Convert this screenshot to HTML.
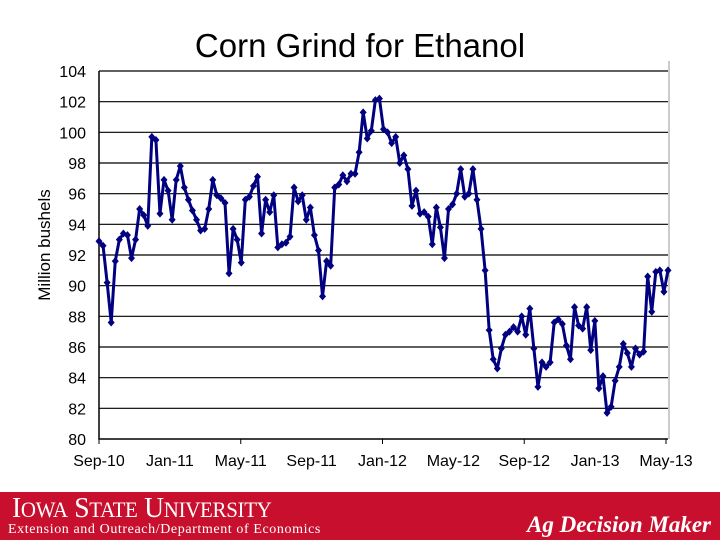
<!DOCTYPE html>
<html><head><meta charset="utf-8"><style>
body{margin:0;width:720px;height:540px;background:#fff;overflow:hidden;font-family:"Liberation Sans",Arial,sans-serif;position:relative}
#footer{position:absolute;left:0;top:492px;width:720px;height:48px;background:#c8102e}
</style></head><body>
<svg id="chart" width="720" height="492" style="position:absolute;left:0;top:0">
<text x="360" y="57" text-anchor="middle" font-size="33" font-family="Liberation Sans, sans-serif">Corn Grind for Ethanol</text>
<text transform="translate(50,245) rotate(-90)" text-anchor="middle" font-size="17">Million bushels</text>
<g id="grid"></g><g id="axes"></g><g id="series"></g>
</svg>
<div id="footer">
<div style="position:absolute;left:12px;top:0px;color:#fff;font-family:'Liberation Serif',serif;font-size:29px;letter-spacing:-0.3px;white-space:nowrap;transform:scaleX(0.95);transform-origin:left">I<span style="font-size:22px">OWA</span> S<span style="font-size:22px">TATE</span> U<span style="font-size:22px">NIVERSITY</span></div>
<div style="position:absolute;left:8px;top:30px;color:#fff;font-family:'Liberation Serif',serif;font-size:14px;white-space:nowrap;letter-spacing:0.6px">Extension and Outreach/Department of Economics</div>
<div style="position:absolute;left:527px;top:20px;color:#fff;font-family:'Liberation Serif',serif;font-style:italic;font-weight:bold;font-size:23px;white-space:nowrap">Ag Decision Maker</div>
</div>
<script>
const values=[92.9,92.6,90.2,87.6,91.6,93.0,93.4,93.3,91.8,93.0,95.0,94.6,93.9,99.7,99.5,94.7,96.9,96.2,94.3,96.9,97.8,96.4,95.6,94.9,94.3,93.6,93.7,95.0,96.9,95.9,95.7,95.4,90.8,93.7,93.0,91.5,95.6,95.8,96.5,97.1,93.4,95.6,94.8,95.9,92.5,92.7,92.8,93.2,96.4,95.5,95.9,94.3,95.1,93.3,92.3,89.3,91.6,91.3,96.4,96.6,97.2,96.8,97.3,97.3,98.7,101.3,99.6,100.1,102.1,102.2,100.2,100.0,99.3,99.7,98.0,98.5,97.6,95.2,96.2,94.7,94.8,94.5,92.7,95.1,93.8,91.8,95.0,95.3,96.0,97.6,95.8,96.0,97.6,95.6,93.7,91.0,87.1,85.2,84.6,85.9,86.8,87.0,87.3,87.0,88.0,86.8,88.5,85.9,83.4,85.0,84.7,85.0,87.6,87.8,87.5,86.1,85.2,88.6,87.4,87.2,88.6,85.8,87.7,83.3,84.1,81.7,82.1,83.8,84.7,86.2,85.6,84.7,85.9,85.5,85.7,90.6,88.3,90.9,91.0,89.6,91.0];
const yTicks=[80,82,84,86,88,90,92,94,96,98,100,102,104];
const xLabels=["Sep-10","Jan-11","May-11","Sep-11","Jan-12","May-12","Sep-12","Jan-13","May-13"];
const X0=99,X1=668,Y0=439,Y1=71;
const NS='http://www.w3.org/2000/svg';
function y(v){return Y0-(v-80)/(104-80)*(Y0-Y1);}
function x(i){return X0+i/(values.length-1)*(X1-X0);}
function xl(i){return X0+i/(xLabels.length-1)*(X1-2-X0);}
function mk(t,a,p){const e=document.createElementNS(NS,t);for(const k in a)e.setAttribute(k,a[k]);p.appendChild(e);return e;}
const grid=document.getElementById('grid'),axes=document.getElementById('axes'),series=document.getElementById('series');
yTicks.forEach(v=>{
 if(v>80){const g=mk('line',{x1:X0,x2:X1,y1:y(v),y2:y(v),stroke:'#000','stroke-width':1.2},grid);
 
 }
 const t=mk('text',{x:86,y:y(v)+6,'text-anchor':'end','font-size':16},axes);t.textContent=v;
 
 
});
const ax=mk('path',{d:`M${X0},${Y1} V${Y0} H${X1}`,stroke:'#000','stroke-width':1.5,fill:'none'},axes);


mk('line',{x1:X1+1,x2:X1+1,y1:Y1-10,y2:Y0,stroke:'#999','stroke-width':1},axes);
xLabels.forEach((l,i)=>{
 if(i%2==0)mk('line',{x1:xl(i),x2:xl(i),y1:Y0,y2:Y0+5,stroke:'#000'},axes);
 const t=mk('text',{x:xl(i),y:466,'text-anchor':'middle','font-size':16},axes);t.textContent=l;
 
 
});
const line=mk('polyline',{points:values.map((v,i)=>x(i)+','+y(v)).join(' '),fill:'none',stroke:'#000080','stroke-width':3,'stroke-linejoin':'round'},series);


values.forEach((v,i)=>{
 const cx=x(i),cy=y(v);
 const m=mk('path',{d:`M${cx},${cy-4} L${cx+3.5},${cy} L${cx},${cy+4} L${cx-3.5},${cy}Z`,fill:'#000080'},series);
 
 
});
</script>
</body></html>
